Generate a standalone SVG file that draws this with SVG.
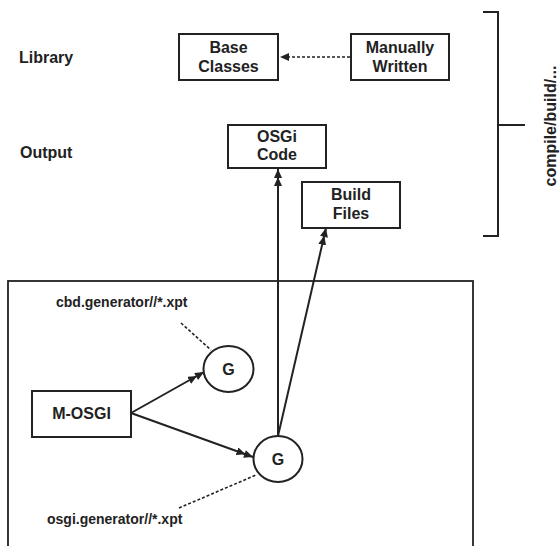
<svg xmlns="http://www.w3.org/2000/svg" width="560" height="546" viewBox="0 0 560 546">
  <style>
    .box { fill: #fff; stroke: #222; stroke-width: 2; }
    .circ { fill: #fff; stroke: #222; stroke-width: 2; }
    .lbl { font-family: "Liberation Sans", Arial, sans-serif; font-weight: bold; font-size: 16px; fill: #222; text-anchor: middle; }
    .side { font-family: "Liberation Sans", Arial, sans-serif; font-weight: bold; font-size: 16px; fill: #222; }
    .small { font-family: "Liberation Sans", Arial, sans-serif; font-weight: bold; font-size: 14px; fill: #222; }
    .edge { fill: none; stroke: #222; stroke-width: 2; }
    .dash { fill: none; stroke: #222; stroke-width: 1.6; stroke-dasharray: 3 2; }
    .frame { fill: none; stroke: #222; stroke-width: 1.8; }
  </style>
  <defs>
    <!-- doubled solid arrowhead -->
    <marker id="dbl" viewBox="0 0 17 8" refX="17" refY="4" markerWidth="17" markerHeight="8" markerUnits="userSpaceOnUse" orient="auto">
      <path d="M0,0 L9,4 L0,8 Z M8,0 L17,4 L8,8 Z" fill="#222"/>
    </marker>
    <marker id="single" viewBox="0 0 9 8" refX="9" refY="4" markerWidth="9" markerHeight="8" markerUnits="userSpaceOnUse" orient="auto">
      <path d="M0,0 L9,4 L0,8 Z" fill="#222"/>
    </marker>
  </defs>
  <rect width="560" height="546" fill="#fff"/>

  <!-- row captions -->
  <text class="side" x="19" y="63">Library</text>
  <text class="side" x="20" y="158">Output</text>

  <!-- generator panel -->
  <rect class="frame" x="8" y="281" width="465" height="280"/>

  <!-- bracket spanning library and output -->
  <g id="bracket">
    <polyline class="edge" points="483,12 498,12 498,236 483,236"/>
    <line class="edge" x1="498" y1="125" x2="525" y2="125"/>
    <text class="side" transform="translate(556,126) rotate(-90)" text-anchor="middle">compile/build/...</text>
  </g>

  <g id="connectors">
    <line class="dash" x1="350" y1="57" x2="280" y2="57" marker-end="url(#single)"/>
    <line class="edge" x1="278" y1="436" x2="278" y2="169" marker-end="url(#dbl)"/>
    <line class="edge" x1="278" y1="436" x2="326" y2="228" marker-end="url(#dbl)"/>
    <line class="edge" x1="131" y1="413" x2="204" y2="372" marker-end="url(#dbl)"/>
    <line class="edge" x1="131" y1="413" x2="253" y2="457" marker-end="url(#dbl)"/>
    <line class="dash" x1="181" y1="323" x2="211" y2="350"/>
    <line class="dash" x1="179" y1="508" x2="256" y2="475"/>
  </g>

  <g id="base-classes">
    <rect class="box" x="179" y="34" width="99" height="46"/>
    <text class="lbl" x="228.5" y="53">Base</text>
    <text class="lbl" x="228.5" y="72">Classes</text>
  </g>
  <g id="manually-written">
    <rect class="box" x="351" y="34" width="98" height="46"/>
    <text class="lbl" x="400" y="53">Manually</text>
    <text class="lbl" x="400" y="72">Written</text>
  </g>
  <g id="osgi-code">
    <rect class="box" x="228" y="125" width="98" height="43"/>
    <text class="lbl" x="277" y="142">OSGi</text>
    <text class="lbl" x="277" y="160">Code</text>
  </g>
  <g id="build-files">
    <rect class="box" x="302" y="182" width="98" height="46"/>
    <text class="lbl" x="351" y="200">Build</text>
    <text class="lbl" x="351" y="219">Files</text>
  </g>
  <g id="m-osgi">
    <rect class="box" x="32" y="391" width="99" height="46"/>
    <text class="lbl" x="81.5" y="419">M-OSGI</text>
  </g>
  <g id="gen-cbd">
    <ellipse class="circ" cx="228.5" cy="369" rx="25" ry="23"/>
    <text class="lbl" x="228.5" y="374.5">G</text>
  </g>
  <g id="gen-osgi">
    <ellipse class="circ" cx="278" cy="459" rx="24.5" ry="23"/>
    <text class="lbl" x="278" y="464.5">G</text>
  </g>
  <g id="labels">
    <text class="small" x="56" y="307">cbd.generator//*.xpt</text>
    <text class="small" x="47" y="524">osgi.generator//*.xpt</text>
  </g>
</svg>
